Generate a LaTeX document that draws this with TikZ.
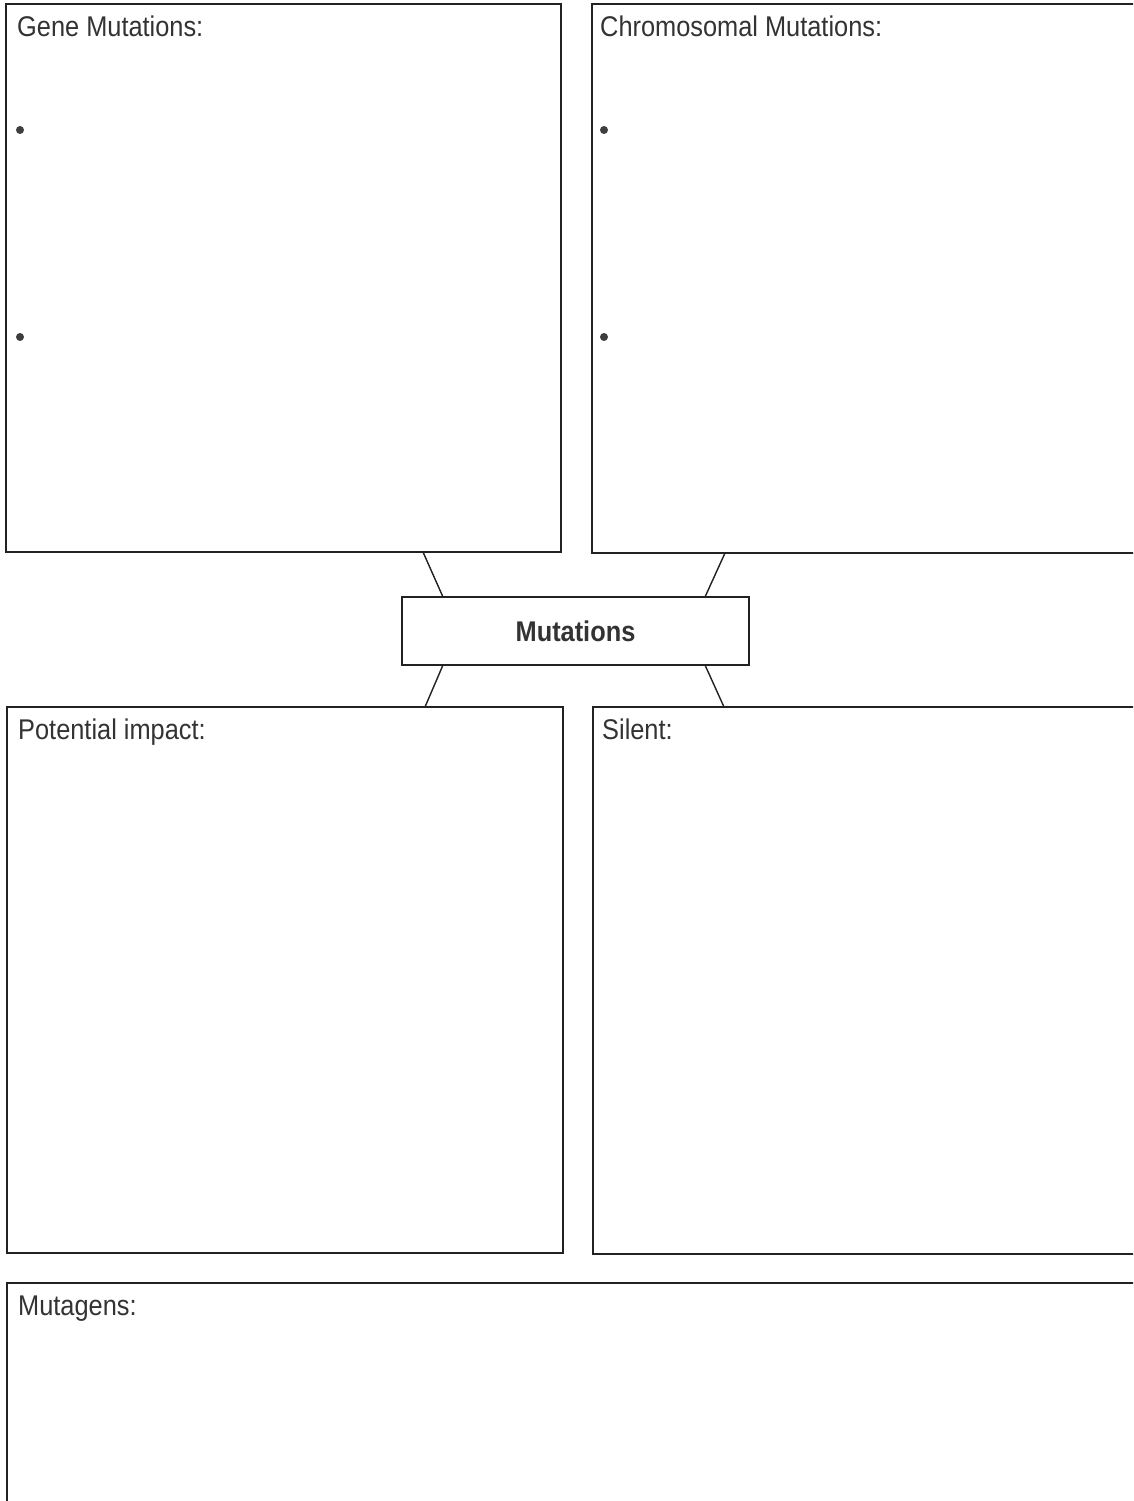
\documentclass[tikz,border=0pt]{standalone}
\usepackage{fontspec}
\setmainfont{Liberation Sans}
\newfontfamily\condfont[FakeStretch=0.89]{Liberation Sans}
\usetikzlibrary{calc}
\definecolor{ink}{HTML}{222222}
\definecolor{txt}{HTML}{333333}
\tikzset{
  panel/.style={draw=ink, line width=1.6pt, rectangle, inner sep=0pt, outer sep=0pt, anchor=north west},
  title/.style={anchor=base west, inner sep=0pt, text=txt, font=\condfont\fontsize{28.5}{30}\selectfont},
  conn/.style={draw=ink, line width=1.4pt},
  bullet/.style={circle, fill=txt!85!gray, draw=none, inner sep=0pt, minimum size=8pt}
}
\begin{document}
\begin{tikzpicture}[x=1pt,y=-1pt]
\useasboundingbox (0,0) rectangle (1133,1501);
\clip (0,0) rectangle (1133,1501);
\fill[white] (0,0) rectangle (1133,1501);
% panels
\node[panel, minimum width=555pt, minimum height=548pt] (gene) at (6,4) {};
\node[panel, minimum width=560pt, minimum height=549pt] (chrom) at (592,4) {};
\node[panel, minimum width=347pt, minimum height=68pt] (mut) at (402,597) {};
\node[panel, minimum width=556pt, minimum height=546pt] (pot) at (7,707) {};
\node[panel, minimum width=560pt, minimum height=547pt] (sil) at (593,707) {};
\node[panel, minimum width=1140pt, minimum height=240pt] (mutag) at (7,1283) {};
% titles
\node[title] (geneT) at (17,37) {Gene Mutations:};
\node[title] (chromT) at (600,37) {Chromosomal Mutations:};
\node[title] (potT) at (18,739) {Potential impact:};
\node[title] (silT) at (602,739) {Silent:};
\node[title] (mutagT) at (18,1315) {Mutagens:};
\node[inner sep=0pt, text=txt, font=\condfont\bfseries\fontsize{28.5}{30}\selectfont] (mutT) at (mut.center) {Mutations};
% bullets
\node[bullet] (b1) at (20,130) {};
\node[bullet] (b2) at (20,337) {};
\node[bullet] (b3) at (604,130) {};
\node[bullet] (b4) at (604,337) {};
% connectors
\draw[conn] ($(gene.south west)+(417,0)$) -- ($(mut.north west)+(41,0)$);
\draw[conn] ($(chrom.south west)+(133,0)$) -- ($(mut.north east)+(-44,0)$);
\draw[conn] ($(mut.south west)+(41,0)$) -- ($(pot.north west)+(418,0)$);
\draw[conn] ($(mut.south east)+(-44,0)$) -- ($(sil.north west)+(131,0)$);
\end{tikzpicture}
\end{document}
